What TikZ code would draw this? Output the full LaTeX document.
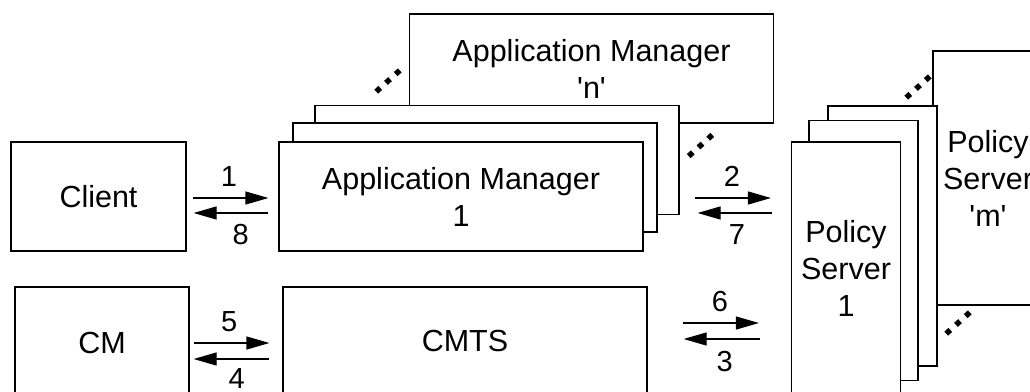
\documentclass[tikz,border=0pt]{standalone}
\usepackage{fontspec}
\usepackage{tikz}
\usetikzlibrary{arrows.meta}
\usetikzlibrary{positioning}
\newfontfamily\arialfont{Liberation Sans}
\tikzset{box/.style = {draw, fill = white, line width = 1.2pt, inner sep = 0, align = center,
                       font = \arialfont\fontsize{30.5}{37}\selectfont}}
\tikzset{am/.style = {box, minimum width = 364pt, minimum height = 109pt}}
\tikzset{ps/.style = {box, minimum width = 109pt, minimum height = 260pt}}
\tikzset{sig/.style = {line width = 1.2pt, -{Triangle[length = 23pt, width = 13pt]}}}
\tikzset{num/.style = {inner sep = 0, font = \arialfont\fontsize{29}{35}\selectfont}}
\tikzset{more/.style = {line width = 5.5pt, dash pattern = on 5.5pt off 7.6pt}}

\begin{document}
\begin{tikzpicture}[x = 1pt, y = -1pt]
  \useasboundingbox (0, 0) rectangle (1030, 391);
  \node [am] (amn) at (591.5, 68.5) {Application Manager\\'n'};
  \node [am] (am3) at (497, 160) {};
  \node [am] (am2) at (475, 177.5) {};
  \node [am] (am1) at (461, 196.5) {Application Manager\\1};
  \node [ps, minimum width = 110pt, minimum height = 254pt] (psm) at (988, 178) {Policy\\Server\\'m'};
  \node [ps] (ps3) at (882.5, 236) {};
  \node [ps] (ps2) at (863.5, 250.5) {};
  \node [ps, minimum height = 252pt] (ps1) at (846, 268) {Policy\\Server\\1};
  \node [box, minimum width = 175pt, minimum height = 109pt] (client) at (98.5, 196.5) {Client};
  \node [box, minimum width = 174pt, minimum height = 112pt] (cm) at (102, 343) {CM};
  \node [am, minimum height = 108pt] (cmts) at (465, 341) {CMTS};
  % messages
  \draw [sig] ([shift = {(6, 1.5)}]client.east) -- ([shift = {(-10, 1.5)}]client.east -| am1.west)
    node [num, pos = 0.48, above = 11pt] {1};
  \draw [sig] ([shift = {(-10, 16.5)}]client.east -| am1.west) -- ([shift = {(7, 16.5)}]client.east)
    node [num, pos = 0.37, below = 11pt] {8};
  \draw [sig] ([shift = {(15, 1.5)}]am1.east -| am3.east) -- ([shift = {(-20, 1.5)}]am1.east -| ps1.west)
    node [num, pos = 0.49, above = 11pt] {2};
  \draw [sig] ([shift = {(-19, 16.5)}]am1.east -| ps1.west) -- ([shift = {(18, 16.5)}]am1.east -| am3.east)
    node [num, pos = 0.47, below = 11pt] {7};
  \draw [sig] ([shift = {(-31, -2)}]cmts.east -| ps1.west) -- ([shift = {(36, -2)}]cmts.east)
    node [num, pos = 0.46, below = 12pt] {3};
  \draw [sig] ([shift = {(-13, 16)}]cm.east -| cmts.west) -- ([shift = {(4, 16)}]cm.east)
    node [num, pos = 0.43, below = 9pt] {4};
  \draw [sig] ([shift = {(4, 0)}]cm.east) -- ([shift = {(-13, 0)}]cm.east -| cmts.west)
    node [num, pos = 0.47, above = 11pt] {5};
  \draw [sig] ([shift = {(35, -18)}]cmts.east) -- ([shift = {(-32, -18)}]cmts.east -| ps1.west)
    node [num, pos = 0.49, above = 11pt] {6};
  % more boxes behind
  \foreach \x/\y in {388/81, 700.5/145.5, 918/87, 958/323}
    \draw [more] (\x - 11.8, \y + 10.6) -- (\x + 11.8, \y - 10.6);
\end{tikzpicture}
\end{document}
